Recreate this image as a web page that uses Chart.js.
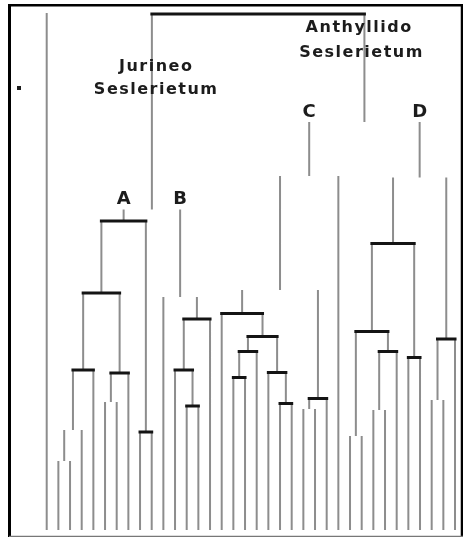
<!DOCTYPE html>
<html>
<head>
<meta charset="utf-8">
<script src="https://cdn.jsdelivr.net/npm/chart.js@4"></script>
<style>
  html, body { margin: 0; padding: 0; background: #fff; }
  #wrap { width: 463px; height: 537px; }
</style>
</head>
<body>
<div id="wrap"><canvas id="dendro"></canvas></div>
<script>
// Leaves are numbered 0..35 from left to right
const leafCount = 36;

// Joins, listed bottom-up: id, left child, right child, join height
const joinIds    = ['n1', 'n2', 'n3', 'n4', 'n5', 'n6', 'n7', 'A',
                    'n8', 'n9', 'n10', 'B', 'Jur',
                    'n11', 'n12', 'n13', 'n14', 'n15', 'E', 'n16', 'F', 'G', 'C',
                    'n17', 'n18', 'n19', 'n20', 'n21', 'n22', 'n23', 'n24', 'D',
                    'Ant', 'root'];
const joinLeft   = [1, 'n1', 'n2', 5, 'n4', 'n3', 8, 'n6',
                    12, 11, 'n9', 10, 'A',
                    16, 'n11', 20, 19, 'n12', 15, 22, 'n16', 'E', 'G',
                    26, 28, 'n18', 'n17', 31, 'n20', 33, 'n23', 'n22',
                    'C', 'Jur'];
const joinRight  = [2, 3, 4, 6, 7, 'n5', 9, 'n7',
                    13, 'n8', 14, 'n10', 'B',
                    17, 18, 21, 'n13', 'n14', 'n15', 23, 24, 'F', 25,
                    27, 29, 30, 'n19', 32, 'n21', 34, 35, 'n24',
                    'D', 'Ant'];
const joinHeight = [13.8, 20.0, 32.0, 25.6, 31.4, 47.4, 19.6, 61.8,
                    24.8, 32.0, 42.2, 46.6, 64.1,
                    30.5, 35.7, 25.3, 31.5, 38.7, 43.3, 24.2, 26.3, 48.0, 70.8,
                    18.8, 24.0, 35.7, 39.7, 34.5, 57.3, 26.0, 38.2, 70.5,
                    81.6, 103.2];

// Joins whose crossbar is missing in the scan
const hiddenJoins = ['n1', 'n2', 'n4', 'B', 'Jur', 'n16', 'G', 'C',
                     'n17', 'n18', 'n23', 'D', 'Ant'];

// Leaf 0 stands alone, rising almost to the top
const outgroupLeaf = 0;
const outgroupTop = 103.4;

// Cluster letters sit over these joins
const clusterLetters = ['A', 'B', 'C', 'D'];

// Association names: text, x (leaf units), height
const groupText = ['Jurineo', 'Seslerietum', 'Anthyllido', 'Seslerietum'];
const groupX    = [9.3, 9.3, 26.7, 26.9];
const groupY    = [92.6, 88.0, 100.4, 95.4];

// build segment lists from the joins
const pos = {}, hgt = {}, parentOf = {};
for (let i = 0; i < leafCount; i++) { pos[i] = i; hgt[i] = 0; }
const vLines = [], hLines = [];
joinIds.forEach((id, k) => {
  const a = joinLeft[k], b = joinRight[k], h = joinHeight[k];
  pos[id] = (pos[a] + pos[b]) / 2;
  hgt[id] = h;
  parentOf[a] = id; parentOf[b] = id;
  [a, b].forEach(c => {
    vLines.push({x: pos[c], y: hgt[c]}, {x: pos[c], y: h}, {x: pos[c], y: null});
  });
  if (!hiddenJoins.includes(id)) {
    hLines.push({x: pos[a], y: h}, {x: pos[b], y: h}, {x: pos[b], y: null});
  }
});
vLines.push({x: outgroupLeaf, y: 0}, {x: outgroupLeaf, y: outgroupTop});

// frame and text drawn after the lines
const decor = {
  id: 'decor',
  afterDraw(chart) {
    const c = chart.ctx, a = chart.chartArea;
    const xs = chart.scales.x, ys = chart.scales.y;
    c.save();
    c.lineCap = 'butt';
    c.strokeStyle = '#000';
    c.lineWidth = 3;
    c.beginPath(); c.moveTo(a.left + 0.5, a.top - 1); c.lineTo(a.left + 0.5, a.bottom + 1); c.stroke();
    c.lineWidth = 2.5;
    c.beginPath(); c.moveTo(a.left - 1, a.top + 0.3); c.lineTo(a.right + 2, a.top + 0.3); c.stroke();
    c.beginPath(); c.moveTo(a.right + 1, a.top - 1); c.lineTo(a.right + 1, a.bottom + 1); c.stroke();
    c.strokeStyle = '#777';
    c.lineWidth = 1.3;
    c.beginPath(); c.moveTo(a.left, a.bottom + 0.3); c.lineTo(a.right + 2, a.bottom + 0.3); c.stroke();

    c.fillStyle = '#1c1c1c';
    c.textAlign = 'center';
    c.textBaseline = 'middle';
    c.font = 'bold 16px "DejaVu Sans"';
    if ('letterSpacing' in c) c.letterSpacing = '1.5px';
    groupText.forEach((t, i) => {
      c.fillText(t, xs.getPixelForValue(groupX[i]) + 1, ys.getPixelForValue(groupY[i]));
    });
    if ('letterSpacing' in c) c.letterSpacing = '0px';
    c.font = 'bold 18px "DejaVu Sans"';
    clusterLetters.forEach(id => {
      const top = hgt[parentOf[id]];
      c.fillText(id, xs.getPixelForValue(pos[id]), ys.getPixelForValue(top) - 10);
    });
    // small speck at the left
    c.fillRect(17, 86, 4, 4);
    c.restore();
  }
};

new Chart(document.getElementById('dendro'), {
  type: 'scatter',
  data: {
    datasets: [
      {
        data: hLines, showLine: true, spanGaps: false, order: 0,
        borderColor: '#141414', borderWidth: 3, borderCapStyle: 'square',
        pointRadius: 0
      },
      {
        data: vLines, showLine: true, spanGaps: false, order: 1,
        borderColor: '#8d8d8d', borderWidth: 2, borderCapStyle: 'butt',
        pointRadius: 0
      }
    ]
  },
  options: {
    responsive: true,
    maintainAspectRatio: false,
    animation: false,
    layout: { padding: { left: 9, top: 5, right: 2, bottom: 1 } },
    plugins: { legend: { display: false }, tooltip: { enabled: false } },
    scales: {
      x: { type: 'linear', display: false, min: -3.232, max: 35.513 },
      y: { type: 'linear', display: false, min: -1.2, max: 105 }
    }
  },
  plugins: [decor]
});
</script>
</body>
</html>
